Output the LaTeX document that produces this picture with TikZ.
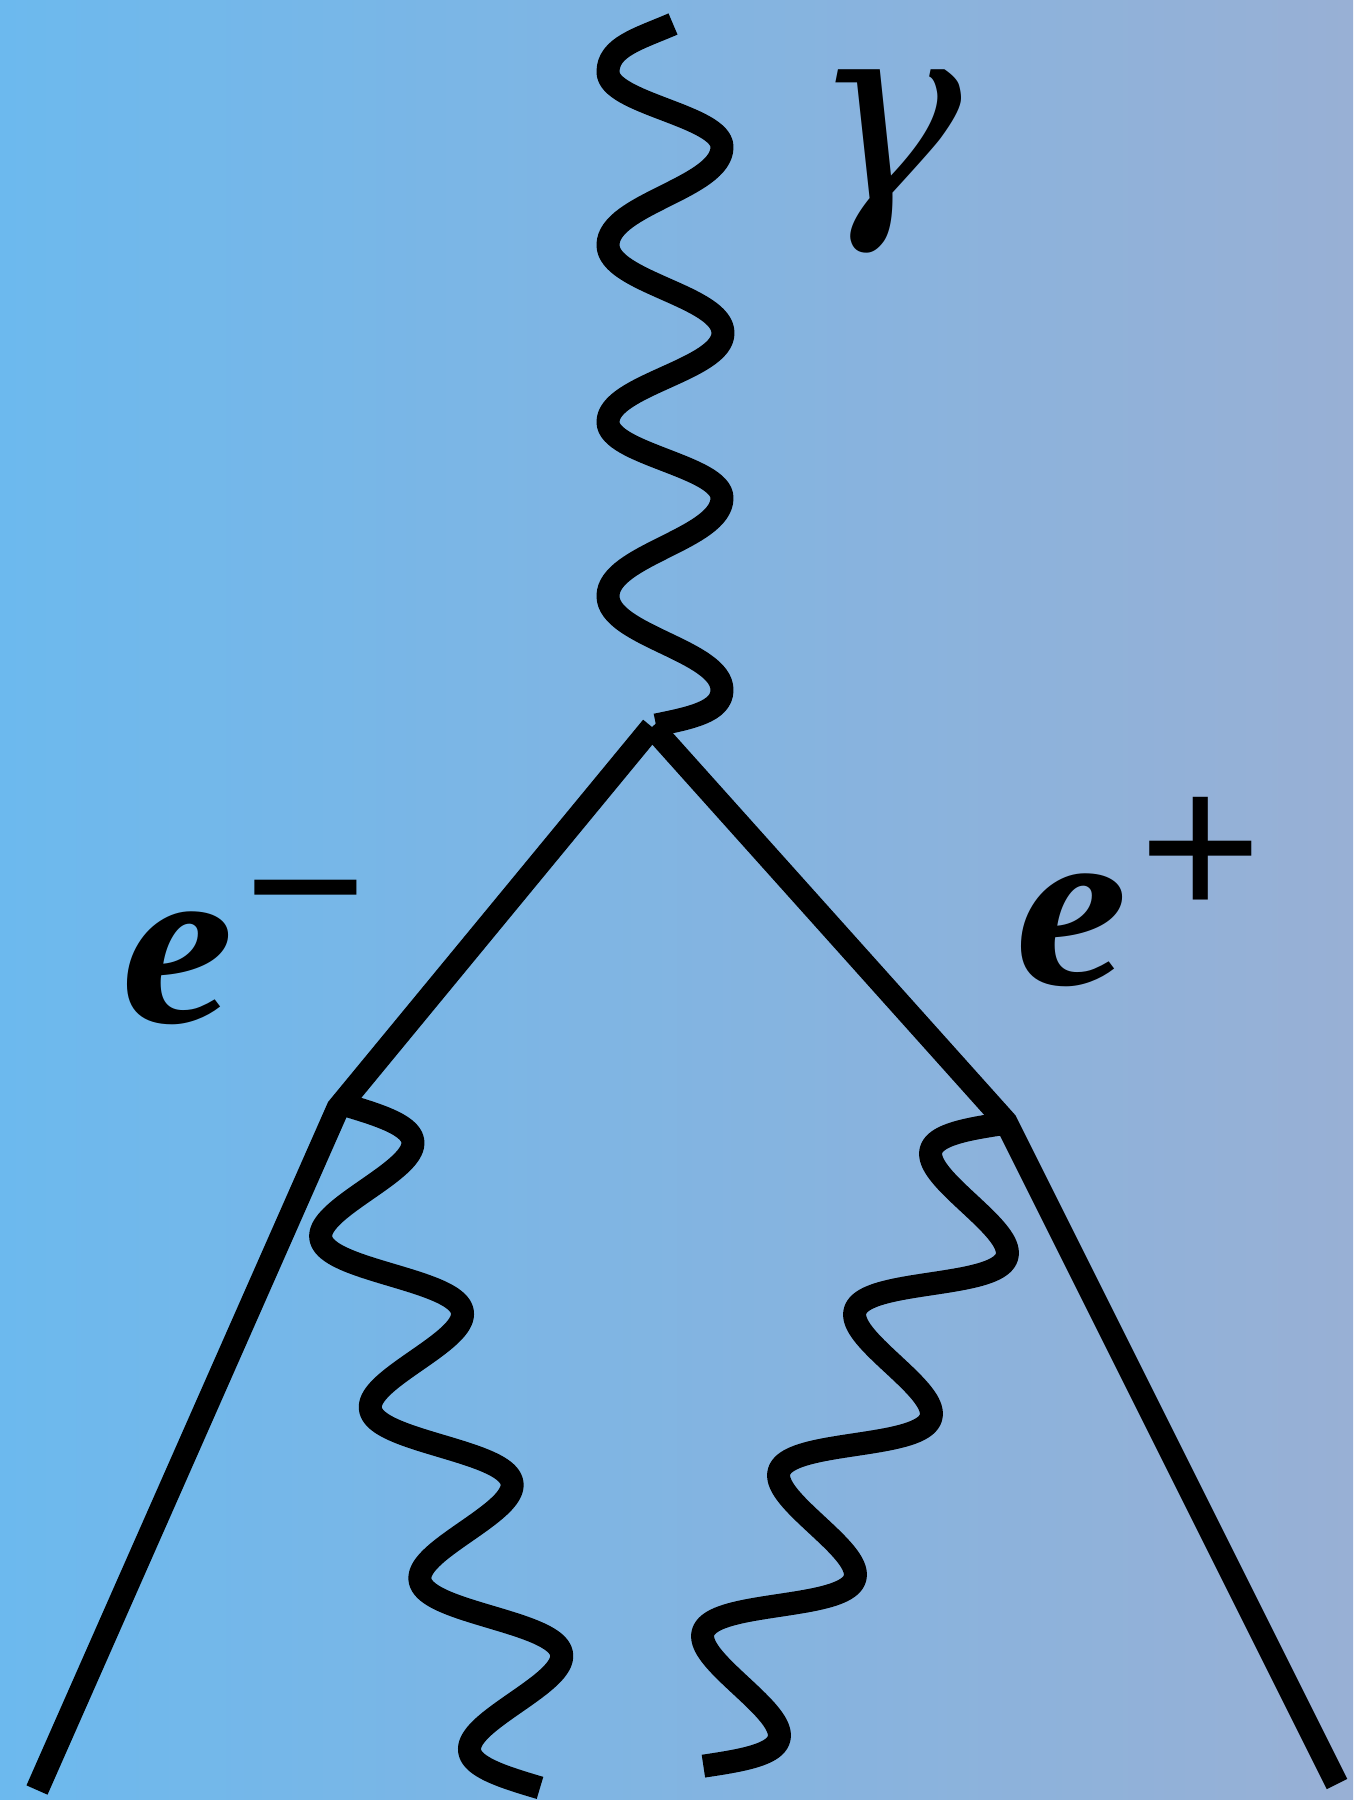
\documentclass[tikz,border=0pt]{standalone}
\usepackage{fontspec}
\setmainfont{Liberation Serif}
\newfontfamily\efont{Liberation Serif}[FakeStretch=1.08]
\newfontfamily\gfont{DejaVu Serif}
\newfontfamily\signfont{Liberation Sans}
\definecolor{bgL}{RGB}{108,185,238}
\definecolor{bgR}{RGB}{152,176,213}
\begin{document}
\begin{tikzpicture}[x=1pt,y=-1pt,
  ln/.style={line width=23pt, draw=black},
  wave/.style={line width=23pt, draw=black, line join=round},
  lbl/.style={inner sep=0pt, outer sep=0pt, text=black}]
\shade[left color=bgL, right color=bgR] (0,0) rectangle (1353,1800);
\useasboundingbox (0,0) rectangle (1353,1800);
% named points
\coordinate (ptop) at (673,24);
\coordinate (pend) at (656,725);
\coordinate (v) at (652,727);
\coordinate (lc) at (338,1108);
\coordinate (lend) at (37,1790);
\coordinate (rc) at (1006,1122);
\coordinate (rend) at (1337,1784);
% main photon
\draw[wave] (ptop) .. controls (638,39) and (608,47) .. (608,72)
 .. controls (608,103.5) and (722,115.5) .. (722,147)
 .. controls (722,188) and (608,204) .. (608,245)
 .. controls (608,282) and (723,296) .. (723,333)
 .. controls (723,370) and (608,385) .. (608,422)
 .. controls (608,454) and (722,466) .. (722,498)
 .. controls (722,539) and (608,555) .. (608,596)
 .. controls (608,635.5) and (722,650.5) .. (722,690)
 .. controls (722,712) and (690,718) .. (pend);
% fermion lines
\draw[ln] (v) -- (lc) -- (lend);
\draw[ln] (v) -- (rc) -- (rend);
% lower photons
\draw[wave] plot[domain=0:16, samples=321, variable=\q]
  ({342+12.4*\q+58*sin(90*\q)}, {1104+42.75*\q-7.6*sin(90*\q)});
\draw[wave] plot[domain=0:16, samples=321, variable=\q]
  ({1007-19*\q-56.1*sin(90*\q)}, {1123+40.2*\q-15.3*sin(90*\q)});
% labels
\node[lbl, font=\gfont\fontsize{252}{252}\selectfont\itshape] (gam) at (887,162) {γ};
\node[lbl, font=\efont\fontsize{235}{235}\selectfont\bfseries\itshape] (em) at (178,968) {e};
\node[lbl, font=\signfont\fontsize{210}{210}\selectfont] (emsign) at (306,919) {−};
\node[lbl, font=\efont\fontsize{235}{235}\selectfont\bfseries\itshape] (ep) at (1072,930) {e};
\node[lbl, font=\signfont\fontsize{210}{210}\selectfont] (epsign) at (1201,858) {+};
\end{tikzpicture}
\end{document}
